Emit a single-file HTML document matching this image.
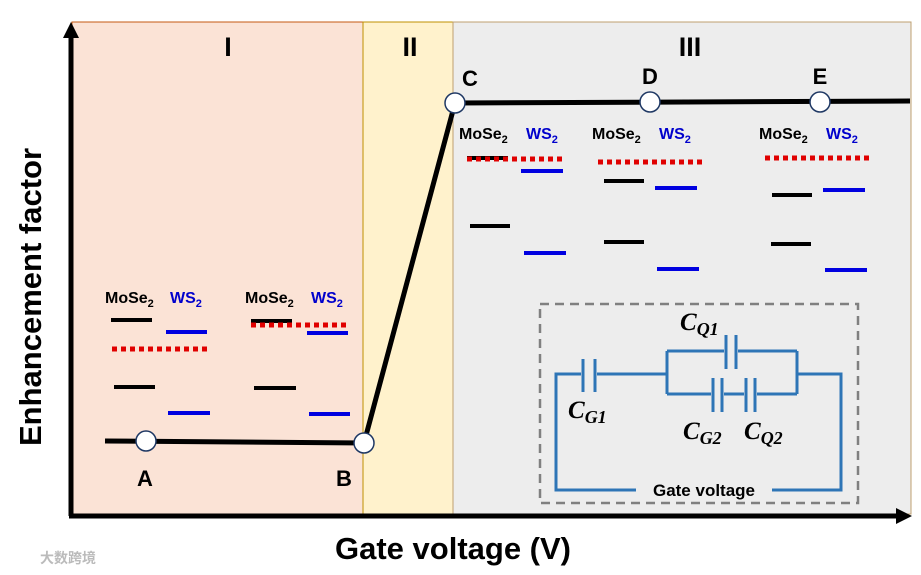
<!DOCTYPE html>
<html><head><meta charset="utf-8"><style>
html,body{margin:0;padding:0;background:#fff}
svg{display:block}
text{font-family:"Liberation Sans",sans-serif;font-weight:bold}
.m{font-family:"Liberation Serif",serif;font-style:italic;font-weight:bold}
</style></head><body>
<svg width="921" height="575" viewBox="0 0 921 575" xmlns="http://www.w3.org/2000/svg">
<rect x="72" y="22" width="291" height="492" fill="#fbe3d6" stroke="#c55a11" stroke-width="1"/>
<rect x="363" y="22" width="90" height="492" fill="#fff2cc" stroke="#bf9000" stroke-width="1"/>
<rect x="453" y="22" width="458" height="492" fill="#ededed" stroke="#bfa070" stroke-width="1"/>
<line x1="71" y1="516" x2="71" y2="34" stroke="#000" stroke-width="5"/>
<polygon points="71,22 63,38 79,38" fill="#000"/>
<line x1="69" y1="516" x2="898" y2="516" stroke="#000" stroke-width="5"/>
<polygon points="912,516 896,508 896,524" fill="#000"/>
<text x="228" y="56" font-size="27" text-anchor="middle">I</text>
<text x="410" y="56" font-size="27" text-anchor="middle">II</text>
<text x="690" y="56" font-size="27" text-anchor="middle">III</text>
<polyline points="105,441 364,443 455,103 910,101" fill="none" stroke="#000" stroke-width="5"/>
<g fill="#fff" stroke="#1f3864" stroke-width="1.5">
<circle cx="146" cy="441" r="10"/><circle cx="364" cy="443" r="10"/>
<circle cx="455" cy="103" r="10"/><circle cx="650" cy="102" r="10"/><circle cx="820" cy="102" r="10"/>
</g>
<g font-size="22">
<text x="145" y="486" text-anchor="middle">A</text>
<text x="344" y="486" text-anchor="middle">B</text>
<text x="470" y="86" text-anchor="middle">C</text>
<text x="650" y="84" text-anchor="middle">D</text>
<text x="820" y="84" text-anchor="middle">E</text>
</g>
<g font-size="16">
<text x="105" y="303">MoSe<tspan font-size="11" dy="4">2</tspan></text><text x="170" y="303" fill="#0000cc">WS<tspan font-size="11" dy="4">2</tspan></text>
<text x="245" y="303">MoSe<tspan font-size="11" dy="4">2</tspan></text><text x="311" y="303" fill="#0000cc">WS<tspan font-size="11" dy="4">2</tspan></text>
<text x="459" y="139">MoSe<tspan font-size="11" dy="4">2</tspan></text><text x="526" y="139" fill="#0000cc">WS<tspan font-size="11" dy="4">2</tspan></text>
<text x="592" y="139">MoSe<tspan font-size="11" dy="4">2</tspan></text><text x="659" y="139" fill="#0000cc">WS<tspan font-size="11" dy="4">2</tspan></text>
<text x="759" y="139">MoSe<tspan font-size="11" dy="4">2</tspan></text><text x="826" y="139" fill="#0000cc">WS<tspan font-size="11" dy="4">2</tspan></text>
</g>
<g stroke-width="4">
<g stroke="#000">
<line x1="111" y1="320" x2="152" y2="320"/><line x1="114" y1="387" x2="155" y2="387"/>
<line x1="251" y1="321" x2="292" y2="321"/><line x1="254" y1="388" x2="296" y2="388"/>
<line x1="467" y1="158" x2="508" y2="158"/><line x1="470" y1="226" x2="510" y2="226"/>
<line x1="604" y1="181" x2="644" y2="181"/><line x1="604" y1="242" x2="644" y2="242"/>
<line x1="772" y1="195" x2="812" y2="195"/><line x1="771" y1="244" x2="811" y2="244"/>
</g>
<g stroke="#0000e0">
<line x1="166" y1="332" x2="207" y2="332"/><line x1="168" y1="413" x2="210" y2="413"/>
<line x1="307" y1="333" x2="348" y2="333"/><line x1="309" y1="414" x2="350" y2="414"/>
<line x1="521" y1="171" x2="563" y2="171"/><line x1="524" y1="253" x2="566" y2="253"/>
<line x1="655" y1="188" x2="697" y2="188"/><line x1="657" y1="269" x2="699" y2="269"/>
<line x1="823" y1="190" x2="865" y2="190"/><line x1="825" y1="270" x2="867" y2="270"/>
</g>
<g stroke="#e00000" stroke-width="5" stroke-dasharray="5,4">
<line x1="112" y1="349" x2="210" y2="349"/>
<line x1="251" y1="325" x2="350" y2="325"/>
<line x1="467" y1="159" x2="563" y2="159"/>
<line x1="598" y1="162" x2="704" y2="162"/>
<line x1="765" y1="158" x2="869" y2="158"/>
</g>
</g>
<rect x="540" y="304" width="318" height="199" fill="none" stroke="#808080" stroke-width="2.5" stroke-dasharray="9,6"/>
<g stroke="#2e75b6" stroke-width="3" fill="none">
<polyline points="581,374 556,374 556,490 636,490"/>
<polyline points="772,490 841,490 841,374 797,374"/>
<line x1="583" y1="359" x2="583" y2="392"/><line x1="595" y1="359" x2="595" y2="392"/>
<line x1="597" y1="374" x2="667" y2="374"/>
<line x1="667" y1="351" x2="667" y2="394"/><line x1="797" y1="351" x2="797" y2="394"/>
<line x1="667" y1="351" x2="724" y2="351"/><line x1="738" y1="351" x2="797" y2="351"/>
<line x1="726" y1="335" x2="726" y2="369"/><line x1="736" y1="335" x2="736" y2="369"/>
<line x1="667" y1="394" x2="711" y2="394"/><line x1="724" y1="394" x2="744" y2="394"/><line x1="757" y1="394" x2="797" y2="394"/>
<line x1="713" y1="378" x2="713" y2="412"/><line x1="722" y1="378" x2="722" y2="412"/>
<line x1="746" y1="378" x2="746" y2="412"/><line x1="755" y1="378" x2="755" y2="412"/>
</g>
<text x="704" y="496" font-size="17" text-anchor="middle">Gate voltage</text>
<g font-size="25">
<text class="m" x="680" y="330">C<tspan font-size="18" dy="5">Q1</tspan></text>
<text class="m" x="568" y="418">C<tspan font-size="18" dy="5">G1</tspan></text>
<text class="m" x="683" y="439">C<tspan font-size="18" dy="5">G2</tspan></text>
<text class="m" x="744" y="439">C<tspan font-size="18" dy="5">Q2</tspan></text>
</g>
<text x="453" y="559" font-size="31" text-anchor="middle">Gate voltage (V)</text>
<text transform="translate(41,297) rotate(-90)" font-size="31" text-anchor="middle">Enhancement factor</text>
<text x="40" y="563" font-size="14" fill="#bbb" style="font-family:'Noto Sans CJK SC',sans-serif">大数跨境</text>
</svg>
</body></html>
